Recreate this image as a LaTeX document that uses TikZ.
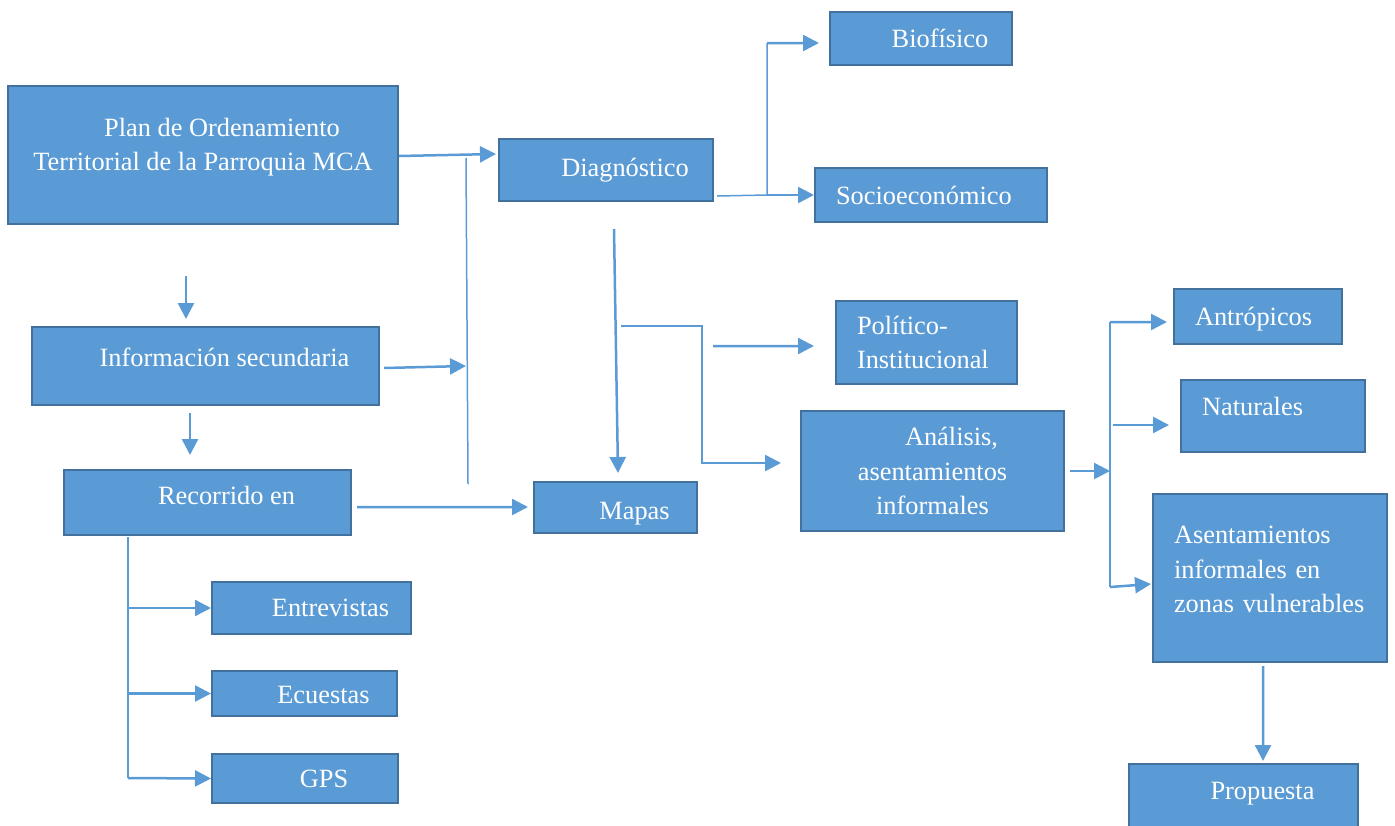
\documentclass[tikz,border=0pt]{standalone}
\usepackage{fontspec}
\setmainfont{Liberation Serif}
\usetikzlibrary{arrows.meta,calc}
\definecolor{azul}{HTML}{5B9BD5}
\definecolor{borde}{HTML}{41719C}
\newcommand{\sangria}{\hspace*{7.6mm}}
\tikzset{
	caja/.style={rectangle,draw=borde,fill=azul,line width=0.4mm,text=white,font=\fontsize{15}{19.5}\selectfont,align=center,inner sep=0pt},
	tam/.style 2 args={minimum width=#1*0.2mm,minimum height=#2*0.2mm},
	izq/.style={align=left,inner xsep=4.2mm},
	alto/.style 2 args={text height=#1,text depth=#2},
	flecha/.style={draw=azul,line width=0.5mm,-{Triangle[length=3.2mm,width=3.2mm]}},
	bus/.style={draw=azul,line width=0.3mm}
}
\begin{document}
\begin{tikzpicture}[x=0.2mm,y=-0.2mm]
	\useasboundingbox (0,0) rectangle (1395,825);
	\clip (0,0) rectangle (1395,825);
	          \begin{scope}[every node/.style={caja}]
	            \node[tam={390}{138},alto={10.3mm}{4.0mm}] (plan) at (203,155) {\sangria Plan de Ordenamiento\\Territorial de la Parroquia MCA};
	            \node[tam={214}{62}] (diag) at (606,170) {\sangria Diagnóstico};
	            \node[tam={182}{53}] (bio) at (921,38.5) {\sangria Biofísico};
	            \node[tam={232}{54},izq,text width=38mm] (socio) at (931,195) {Socioeconómico};
	            \node[tam={181}{83},izq,text width=27.8mm] (poli) at (926.5,342.5) {Político-\\Institucional};
	            \node[tam={263}{120}] (anal) at (932.5,471) {\sangria Análisis,\\asentamientos\\informales};
	            \node[tam={168}{55},izq,text width=25.2mm,alto={5.5mm}{1.8mm}] (antr) at (1258,316.5) {Antrópicos};
	            \node[tam={184}{72},izq,text width=28.4mm,alto={3.5mm}{3.6mm}] (natu) at (1273,416) {Naturales};
	            \node[tam={234}{168},izq,text width=38.4mm,alto={3.5mm}{17.2mm}] (asen) at (1270,578) {Asentamientos\\informales en\\zonas vulnerables};
	            \node[tam={229}{76},alto={3.5mm}{4.4mm}] (prop) at (1243.5,802) {\sangria Propuesta};
	            \node[tam={163}{51},alto={5.9mm}{1.2mm}] (mapas) at (615.5,507.5) {\sangria Mapas};
	            \node[tam={347}{78},alto={3.5mm}{3.2mm}] (info) at (205.5,366) {\sangria Información secundaria};
	            \node[tam={287}{65},alto={3.5mm}{2.6mm}] (reco) at (207.5,502.5) {\sangria Recorrido en};
	            \node[tam={199}{52}] (entr) at (311.5,608) {\sangria Entrevistas};
	            \node[tam={185}{45},alto={4.3mm}{0.4mm}] (ecue) at (304.5,693.5) {\sangria Ecuestas};
	            \node[tam={186}{49}] (gps) at (305,778.5) {\sangria GPS};
	          \end{scope}
	          \coordinate (b1a) at (466,158);
	          \coordinate (b1b) at (468,484);
	          \coordinate (b2a) at (128,537);
	          \coordinate (b2b) at (128,778);
	          \coordinate (b3a) at (767,43);
	          \coordinate (b3b) at (767,195);
	          \coordinate (b4) at (621,326);
	          \coordinate (b5) at (713,346);
	          \coordinate (b6a) at (1110,322);
	          \coordinate (b6b) at (1110,587);
	          \draw[bus] (b1a) -- (b1b);
	          \draw[bus] (b2a) -- (b2b);
	          \draw[bus] ($(diag.south east)+(3,-6)$) -- (b3b) -- (b3a);
	          \draw[bus] (b6a) -- (b6b);
	          \begin{scope}[every edge/.style={flecha}]
	            \path ($(plan.east)+(0,1)$) edge ($(diag.west)+(-2,-16)$);
	            \path ($(info.east)+(4,2)$) edge (b1a |- info.east);
	            \path ($(plan.south)+(-17,51)$) edge ($(info.north)+(-19.5,-7)$);
	            \path ($(info.south)+(-15.5,7)$) edge ($(reco.north)+(-17.5,-14)$);
	            \path ($(reco.east)+(5,4.5)$) edge ($(mapas.west)+(-5,-0.5)$);
	            \path (b2a |- entr.west) edge (entr.west);
	            \path (b2a |- ecue.west) edge (ecue.west);
	            \path (b2b) edge (gps.west);
	            \path (b3a) edge ($(bio.west)+(-10,4.5)$);
	            \path (b3b) edge (socio.west);
	            \path ($(diag.south)+(8,27)$) edge ($(mapas.north)+(2.5,-8)$);
	            \path (b5) edge ($(poli.west)+(-21,3.5)$);
	            \path ($(anal.east)+(5,0)$) edge (b6a |- anal.east);
	            \path (b6a) edge ($(antr.west)+(-6,5.5)$);
	            \path ($(natu.west)+(-67,9)$) edge ($(natu.west)+(-11,9)$);
	            \path (b6b) edge ($(asen.west)+(-1,6)$);
	            \path ($(asen.south)+(-7,3)$) edge ($(prop.north)+(19.5,-2)$);
	          \end{scope}
	          \draw[flecha] (b4) -- ++(81,0) |- ($(anal.west)+(-19,-8)$);
	        \end{tikzpicture}
\end{document}
